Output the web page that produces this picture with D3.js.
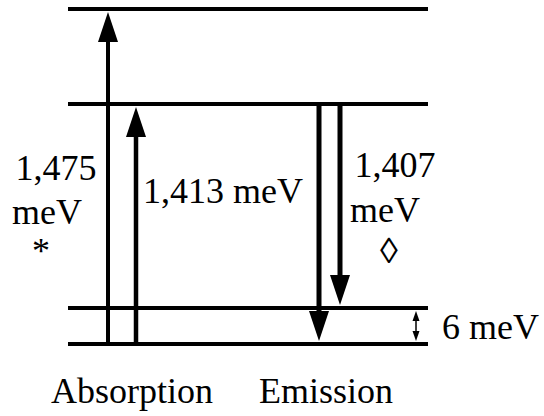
<!DOCTYPE html>
<html><head><meta charset="utf-8">
<script src="https://cdn.jsdelivr.net/npm/d3@7"></script>
</head><body style="margin:0">
<svg id="c" width="544" height="416"></svg>
<script>
// Energy levels in diagram units (not to scale), from lowest to highest
const levelNames = ["ground", "split", "emitting", "upper"];
const levelValues = [0, 36, 240, 335];
// Transitions: x position in diagram units, from level index, to level index
const transitionNames = ["abs1", "abs2", "em1", "em2"];
const transitionX = [40, 68, 251, 272];
const transitionFrom = [0, 0, 2, 2];
const transitionTo = [3, 2, 0, 1];
const transitionWidth = [4, 4.5, 5, 5];
// Labels
const energyLabels = ["1,475", "meV", "*", "1,413 meV", "1,407", "meV", "\u25CA", "6 meV"];
const sectionLabels = ["Absorption", "Emission"];

const svg = d3.select("#c");
const x = d3.scaleLinear().domain([0, 360]).range([68, 428]);
const y = d3.scaleLinear().domain([0, 335]).range([344, 9]);

// level lines
svg.selectAll("line.level").data(levelValues).join("line")
  .attr("class", "level")
  .attr("x1", x(0)).attr("x2", x(360))
  .attr("y1", d => y(d)).attr("y2", d => y(d))
  .attr("stroke", "#000").attr("stroke-width", 4);

// arrows
const headLen = 30, headHalf = 10;
transitionNames.forEach((n, i) => {
  const xx = x(transitionX[i]);
  const y0 = y(levelValues[transitionFrom[i]]);
  const y1 = y(levelValues[transitionTo[i]]);
  const dir = y1 < y0 ? -1 : 1; // -1 up
  const tip = y1 - dir * 3;
  const base = tip - dir * headLen;
  svg.append("line").attr("x1", xx).attr("x2", xx)
    .attr("y1", y0).attr("y2", base + dir * 1)
    .attr("stroke", "#000").attr("stroke-width", transitionWidth[i]);
  svg.append("path")
    .attr("d", d3.line()([[xx, tip], [xx - headHalf, base], [xx + headHalf, base]]) + "Z")
    .attr("fill", "#000");
});

// small double arrow for 6 meV
{
  const xx = x(348);
  const top = y(levelValues[1]) + 3, bot = y(levelValues[0]) - 3;
  svg.append("line").attr("x1", xx).attr("x2", xx).attr("y1", top + 8).attr("y2", bot - 8)
    .attr("stroke", "#000").attr("stroke-width", 1.5);
  svg.append("path").attr("d", d3.line()([[xx, top], [xx - 3.5, top + 10], [xx + 3.5, top + 10]]) + "Z").attr("fill", "#000");
  svg.append("path").attr("d", d3.line()([[xx, bot], [xx - 3.5, bot - 10], [xx + 3.5, bot - 10]]) + "Z").attr("fill", "#000");
}

// text: left-anchored, centred by measuring its own width
const txt = (s, px, py, centred) => {
  const t = svg.append("text").attr("x", px).attr("y", py)
    .attr("font-size", 36).attr("font-family", "Liberation Serif").text(s);
  if (centred) {
    const w = t.node().getComputedTextLength();
    t.attr("x", px - w / 2);
  }
  return t;
};

txt(energyLabels[0], 56, 180, true);
txt(energyLabels[1], 47, 224, true);
txt(energyLabels[2], 41, 263, true);
txt(energyLabels[3], 143, 203, false);
txt(energyLabels[4], 395, 177, true);
txt(energyLabels[5], 385, 222, true);
txt(energyLabels[6], 389, 263, true);
txt(energyLabels[7], 442, 339, false);
txt(sectionLabels[0], 132, 403, true);
txt(sectionLabels[1], 326, 403, true);
</script>
</body></html>
